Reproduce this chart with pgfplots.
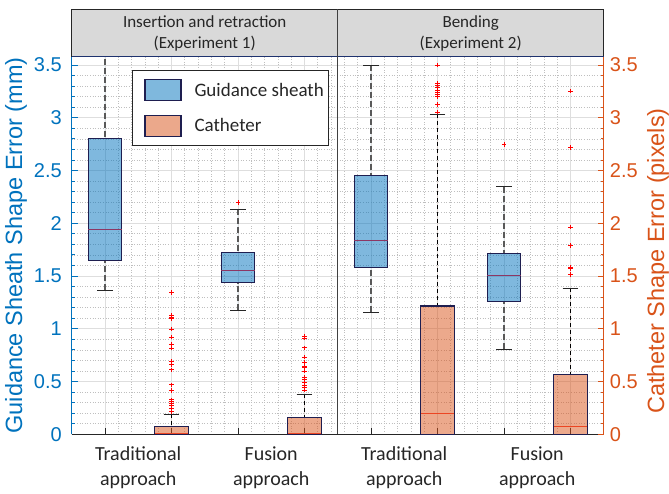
\documentclass[border=0pt]{standalone}
\usepackage{pgfplots}
\pgfplotsset{compat=1.18}
\usepgfplotslibrary{statistics}
\usepackage{fontspec}
\setmainfont{Carlito}
\newfontfamily\arial{Liberation Sans}
\definecolor{mblue}{RGB}{0,114,189}
\definecolor{morange}{RGB}{217,83,25}
\definecolor{edge}{RGB}{30,30,80}
\definecolor{gsmed}{RGB}{140,55,100}
\definecolor{camed}{RGB}{236,70,35}
\definecolor{hgray}{RGB}{217,217,217}
\definecolor{axgray}{RGB}{38,38,38}
\definecolor{topline}{RGB}{30,50,110}

\pgfplotsset{
  /pgfplots/boxplot/draw direction=y,
  /pgfplots/boxplot/every cap/.style={},
  /pgfplots/boxplot/draw/lower whisker/.code={%
    \draw[/pgfplots/boxplot/every whisker/.try]
      (boxplot box cs:\pgfplotsboxplotvalue{lower whisker},0.5) --
      (boxplot box cs:\pgfplotsboxplotvalue{lower quartile},0.5);
    \draw[/pgfplots/boxplot/every cap/.try]
      (boxplot whisker cs:\pgfplotsboxplotvalue{lower whisker},0) --
      (boxplot whisker cs:\pgfplotsboxplotvalue{lower whisker},1);
  },
  /pgfplots/boxplot/draw/upper whisker/.code={%
    \draw[/pgfplots/boxplot/every whisker/.try]
      (boxplot box cs:\pgfplotsboxplotvalue{upper whisker},0.5) --
      (boxplot box cs:\pgfplotsboxplotvalue{upper quartile},0.5);
    \draw[/pgfplots/boxplot/every cap/.try]
      (boxplot whisker cs:\pgfplotsboxplotvalue{upper whisker},0) --
      (boxplot whisker cs:\pgfplotsboxplotvalue{upper whisker},1);
  },
  gsbox/.style={forget plot, draw=edge, line width=1.1pt, fill=mblue, fill opacity=0.5,
    mark=+, mark size=2.2pt, mark options={draw=red, solid, line width=0.7pt},
    /pgfplots/boxplot/box extend=0.5, /pgfplots/boxplot/whisker extend=0.235,
    /pgfplots/boxplot/every whisker/.style={draw=black!65, line width=1.3pt, dash pattern=on 6pt off 3pt},
    /pgfplots/boxplot/every cap/.style={draw=black!85, line width=1pt, solid},
    /pgfplots/boxplot/every median/.style={draw=gsmed, line width=1pt}},
  cabox/.style={forget plot, draw=edge, line width=1.1pt, fill=morange, fill opacity=0.5,
    mark=+, mark size=2.2pt, mark options={draw=red, solid, line width=0.7pt},
    /pgfplots/boxplot/box extend=0.5, /pgfplots/boxplot/whisker extend=0.235,
    /pgfplots/boxplot/every whisker/.style={draw=black, line width=0.8pt, dash pattern=on 4pt off 3pt},
    /pgfplots/boxplot/every cap/.style={draw=black!85, line width=1pt, solid},
    /pgfplots/boxplot/every median/.style={draw=camed, line width=1.2pt}},
}

\begin{document}
\begin{tikzpicture}
\useasboundingbox (0,0) rectangle (669pt,494pt);
\begin{axis}[
  at={(71.7pt,59.8pt)}, anchor=south west, scale only axis,
  width=532pt, height=377.5pt,
  xmin=0.5, xmax=8.5, ymin=0, ymax=3.579,
  /pgf/number format/assume math mode=true,
  xtick={1,...,8}, xtick pos=left,
  xticklabel=\empty,
  minor x tick num=4,
  ytick={0,0.5,...,3.5}, minor y tick num=4, ytick pos=left,
  grid=both,
  major grid style={line width=0.6pt, black!13},
  minor grid style={line width=0.6pt, dotted, black!25},
  tick align=inside, major tick length=6pt, minor tick length=3pt,
  every minor x tick/.append style={draw=none},
  every x tick/.append style={axgray, line width=0.8pt},
  every y tick/.append style={mblue, line width=0.8pt},
  separate axis lines,
  x axis line style={draw=axgray, line width=0.8pt},
  y axis line style={draw=mblue, line width=0.8pt},
  yticklabel style={font=\arial\fontsize{20}{24}\selectfont, text=mblue, inner xsep=0pt, xshift=-9.7pt},
  extra x ticks={1.5,3.5,5.5,7.5},
  extra x tick labels={{Traditional\\approach},{Fusion\\approach},{Traditional\\approach},{Fusion\\approach}},
  extra x tick style={grid=none, major tick length=0pt,
    xticklabel style={font=\fontsize{20}{25}\selectfont, align=center, text=axgray, inner sep=0pt, yshift=-12pt}},
  ylabel={Guidance Sheath Shape Error (mm)},
  every axis y label/.style={at={(axis description cs:-0.1047,0.5)}, rotate=90, anchor=center,
    font=\arial\fontsize{23.5}{28}\selectfont, text=mblue},
  legend style={at={(0.1128,0.9648)}, anchor=north west, draw=axgray, line width=0.8pt, fill=white,
    inner xsep=5pt, inner ysep=9pt, row sep=13.2pt, column sep=13pt,
    font=\fontsize{19}{23}\selectfont, text=axgray, nodes={inner sep=0pt}},
  legend cell align=left,
  legend image code/.code={\path (0pt,0pt); \draw[#1] (7.3pt,-10.5pt) rectangle (43.3pt,10.5pt);},
]
\addlegendimage{draw=edge, line width=1.1pt, fill=mblue, fill opacity=0.5}
\addlegendentry{Guidance sheath}
\addlegendimage{draw=edge, line width=1.1pt, fill=morange, fill opacity=0.5}
\addlegendentry{Catheter}

% Experiment 1 - Traditional
\addplot[gsbox, boxplot prepared={draw position=1, lower whisker=1.364, lower quartile=1.646,
  median=1.94, upper quartile=2.80, upper whisker=3.9}] coordinates {};
\addplot[cabox, boxplot prepared={draw position=2, lower whisker=0, lower quartile=0,
  median=0.004, upper quartile=0.076, upper whisker=0.19}]
  table[row sep=\\, y index=0] {v\\ 1.342\\ 1.127\\ 1.111\\ 1.095\\ 0.997\\ 0.921\\ 0.854\\ 0.816\\ 0.69\\ 0.658\\ 0.611\\ 0.468\\ 0.415\\ 0.326\\ 0.31\\ 0.288\\ 0.269\\ 0.247\\ 0.215\\};
% Experiment 1 - Fusion
\addplot[gsbox, boxplot prepared={draw position=3, lower whisker=1.174, lower quartile=1.437,
  median=1.551, upper quartile=1.722, upper whisker=2.133}]
  table[row sep=\\, y index=0] {v\\ 2.196\\};
\addplot[cabox, boxplot prepared={draw position=4, lower whisker=0, lower quartile=0,
  median=0.005, upper quartile=0.158, upper whisker=0.378}]
  table[row sep=\\, y index=0] {v\\ 0.93\\ 0.91\\ 0.82\\ 0.73\\ 0.68\\ 0.64\\ 0.63\\ 0.60\\ 0.54\\ 0.52\\ 0.49\\ 0.46\\ 0.44\\ 0.42\\};
% Experiment 2 - Traditional
\addplot[gsbox, boxplot prepared={draw position=5, lower whisker=1.158, lower quartile=1.582,
  median=1.835, upper quartile=2.456, upper whisker=3.5}] coordinates {};
\addplot[cabox, boxplot prepared={draw position=6, lower whisker=0, lower quartile=0,
  median=0.2, upper quartile=1.215, upper whisker=3.035}]
  table[row sep=\\, y index=0] {v\\ 3.5\\ 3.33\\ 3.31\\ 3.29\\ 3.26\\ 3.24\\ 3.22\\ 3.20\\ 3.127\\ 3.054\\};
% Experiment 2 - Fusion
\addplot[gsbox, boxplot prepared={draw position=7, lower whisker=0.807, lower quartile=1.256,
  median=1.5, upper quartile=1.712, upper whisker=2.345}]
  table[row sep=\\, y index=0] {v\\ 2.747\\};
\addplot[cabox, boxplot prepared={draw position=8, lower whisker=0, lower quartile=0,
  median=0.073, upper quartile=0.563, upper whisker=1.386}]
  table[row sep=\\, y index=0] {v\\ 3.253\\ 2.718\\ 1.962\\ 1.79\\ 1.585\\ 1.57\\ 1.513\\};
\end{axis}

\begin{axis}[
  at={(71.7pt,59.8pt)}, anchor=south west, scale only axis,
  width=532pt, height=377.5pt,
  xmin=0.5, xmax=8.5, ymin=0, ymax=3.579,
  /pgf/number format/assume math mode=true,
  axis x line=none, axis y line*=right,
  ytick={0,0.5,...,3.5}, minor y tick num=4,
  tick align=inside, major tick length=6pt, minor tick length=3pt,
  every y tick/.append style={morange, line width=0.8pt},
  y axis line style={draw=morange, line width=0.8pt},
  yticklabel style={font=\arial\fontsize{20}{24}\selectfont, text=morange, inner xsep=0pt, xshift=6pt},
  ylabel={Catheter Shape Error (pixels)},
  every axis y label/.style={at={(axis description cs:1.1021,0.4588)}, rotate=90, anchor=center,
    font=\arial\fontsize{23.5}{28}\selectfont, text=morange},
]
\end{axis}

% header
\fill[hgray] (71.7pt,437.3pt) rectangle (603.7pt,485pt);
\draw[axgray, line width=0.8pt] (71.7pt,437.3pt) rectangle (603.7pt,485pt);
\draw[topline, line width=1pt] (71.7pt,437.3pt) -- (603.7pt,437.3pt);
\draw[black!75, line width=1pt] (337.7pt,59.8pt) -- (337.7pt,485pt);
\node[align=center, font=\fontsize{17}{21}\selectfont, text=axgray] at (204.7pt,460.5pt) {Insertion and retraction\\(Experiment 1)};
\node[align=center, font=\fontsize{17}{21}\selectfont, text=axgray] at (470.7pt,460.5pt) {Bending\\(Experiment 2)};
\end{tikzpicture}
\end{document}
